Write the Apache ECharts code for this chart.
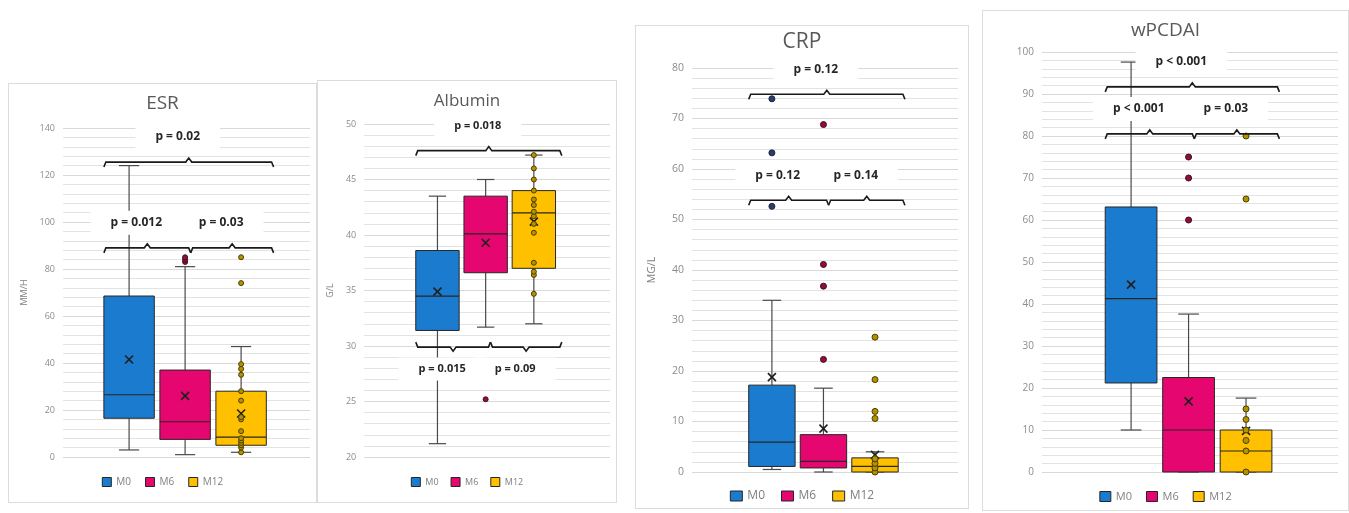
<!DOCTYPE html>
<html>
<head>
<meta charset="utf-8">
<title>ESR / Albumin / CRP / wPCDAI</title>
<script src="https://cdn.jsdelivr.net/npm/echarts@6/dist/echarts.min.js"></script>
<style>
  html, body { margin: 0; padding: 0; background: #fff; }
  body { width: 1349px; height: 513px; position: relative; overflow: hidden; }
  .panel { position: absolute; border: 1px solid #dcdcdc; box-sizing: border-box; background: #fff; }
</style>
</head>
<body>
<div class="panel" id="esr" style="left:8px;top:83px;width:309px;height:420px"></div>
<div class="panel" id="albumin" style="left:317px;top:80px;width:300px;height:423px"></div>
<div class="panel" id="crp" style="left:635px;top:25px;width:334px;height:484px"></div>
<div class="panel" id="wpcdai" style="left:982px;top:10px;width:367px;height:501px"></div>

<script>
// groups (one box per visit)
var groups = ['M0', 'M6', 'M12'];

// stats per group: [min whisker, Q1, median, Q3, max whisker, mean]
var esrStats = [
  [3, 16.5, 26.5, 68.5, 124, 41.5],
  [1, 7.5, 15, 37, 81, 26],
  [2, 5, 8.5, 28, 47, 18.5]
];
var esrPoints = [
  [],
  [83, 84, 85],
  [2, 4, 5, 6, 7, 8, 11, 16, 17, 24, 28, 35, 37.5, 39.5, 74, 85]
];
// brackets: [from group, to group, level, label, direction]
var esrBrackets = [
  [0, 2, 125.5, 'p = 0.02', 1],
  [0, 1, 89, 'p = 0.012', 1],
  [1, 2, 89, 'p = 0.03', 1]
];

var albStats = [
  [21.2, 31.4, 34.5, 38.6, 43.5, 34.9],
  [31.7, 36.6, 40.1, 43.5, 45, 39.3],
  [32, 37, 42, 44, 47.2, 41.2]
];
var albPoints = [
  [],
  [25.2],
  [34.7, 36.4, 36.7, 37.5, 40.2, 41, 41.7, 42.1, 42.7, 43.2, 44, 45, 46, 47.2]
];
var albBrackets = [
  [0, 2, 47.6, 'p = 0.018', 1],
  [0, 1, 29.9, 'p = 0.015', -1],
  [1, 2, 29.9, 'p = 0.09', -1]
];

var crpStats = [
  [0.5, 1.1, 5.9, 17.2, 34, 18.8],
  [0, 0.8, 2.1, 7.4, 16.6, 8.6],
  [0, 0, 1.1, 2.8, 4, 3.4]
];
var crpPoints = [
  [52.6, 63.2, 73.9],
  [22.3, 36.8, 41.1, 68.8],
  [0, 0.8, 1.7, 2.6, 10.6, 12, 18.3, 26.7]
];
var crpBrackets = [
  [0, 2, 74.8, 'p = 0.12', 1],
  [0, 1, 53.8, 'p = 0.12', 1],
  [1, 2, 53.8, 'p = 0.14', 1]
];

var wpStats = [
  [10, 21.2, 41.3, 63.1, 97.6, 44.6],
  [0, 0, 10, 22.5, 37.6, 16.8],
  [0, 0, 5, 10, 17.6, 9.8]
];
var wpPoints = [
  [],
  [60, 70, 75],
  [0, 5, 7.5, 10, 12.5, 15, 65, 80]
];
var wpBrackets = [
  [0, 2, 91.7, 'p < 0.001', 1],
  [0, 1, 80.5, 'p < 0.001', 1],
  [1, 2, 80.5, 'p = 0.03', 1]
];

var boxColors = ['#1b7ccf', '#e5076f', '#ffc000'];
var dotColors = ['#2c3e66', '#8c1038', '#b39200'];
var dotBorders = ['#1a2640', '#4a0a1e', '#4d3e00'];
var FONT = '"Open Sans", "Liberation Sans", sans-serif';

function boxRenderer(color) {
  return function (params, api) {
    var x = api.value(0);
    var half = api.size([0.9, 0])[0] / 2;
    var cap = api.size([0.36, 0])[0] / 2;
    var lo = api.coord([x, api.value(1)]);
    var q1 = api.coord([x, api.value(2)]);
    var md = api.coord([x, api.value(3)]);
    var q3 = api.coord([x, api.value(4)]);
    var hi = api.coord([x, api.value(5)]);
    var mn = api.coord([x, api.value(6)]);
    var cx = lo[0];
    var w = { stroke: '#4a4a4a', lineWidth: 1.2 };
    var m = 4;
    return {
      type: 'group',
      children: [
        { type: 'line', shape: { x1: cx, y1: hi[1], x2: cx, y2: q3[1] }, style: w },
        { type: 'line', shape: { x1: cx, y1: q1[1], x2: cx, y2: lo[1] }, style: w },
        { type: 'line', shape: { x1: cx - cap, y1: hi[1], x2: cx + cap, y2: hi[1] }, style: w },
        { type: 'line', shape: { x1: cx - cap, y1: lo[1], x2: cx + cap, y2: lo[1] }, style: w },
        { type: 'rect', shape: { x: cx - half, y: q3[1], width: half * 2, height: q1[1] - q3[1] },
          style: { fill: color, stroke: '#262626', lineWidth: 1 } },
        { type: 'line', shape: { x1: cx - half, y1: md[1], x2: cx + half, y2: md[1] },
          style: { stroke: '#262626', lineWidth: 1.2 } },
        { type: 'line', shape: { x1: cx - m, y1: mn[1] - m, x2: cx + m, y2: mn[1] + m },
          style: { stroke: '#1f1f1f', lineWidth: 1.6 } },
        { type: 'line', shape: { x1: cx - m, y1: mn[1] + m, x2: cx + m, y2: mn[1] - m },
          style: { stroke: '#1f1f1f', lineWidth: 1.6 } }
      ]
    };
  };
}

function bracketRenderer(list, fontSize) {
  return function (params, api) {
    var b = list[params.dataIndex];
    var dir = b[4];
    var x1 = b[0] === 0 ? -0.45 : 1.1;
    var x2 = b[1] === 2 ? 2.58 : 1.1;
    var p1 = api.coord([x1, b[2]]);
    var p2 = api.coord([x2, b[2]]);
    var y = p1[1];
    var xm = (p1[0] + p2[0]) / 2;
    var pts = [
      [p1[0], y + 5 * dir], [p1[0] + 2, y], [xm - 3, y], [xm, y - 4 * dir],
      [xm + 3, y], [p2[0] - 2, y], [p2[0], y + 5 * dir]
    ];
    return {
      type: 'group',
      children: [
        { type: 'polyline', shape: { points: pts }, style: { stroke: '#1a1a1a', lineWidth: 1.6, fill: null } },
        { type: 'text', x: xm - 11, y: dir > 0 ? y - 25 : y + 22,
          style: { text: b[3], fill: '#262626', font: 'bold ' + fontSize + 'px ' + FONT,
                   align: 'center', verticalAlign: 'middle', backgroundColor: '#fff', padding: [6, 20] } }
      ]
    };
  };
}

function makePanel(id, c) {
  var chart = echarts.init(document.getElementById(id));
  var series = [];
  for (var g = 0; g < 3; g++) {
    series.push({
      name: groups[g],
      type: 'custom',
      renderItem: boxRenderer(boxColors[g]),
      itemStyle: { color: boxColors[g] },
      encode: { x: 0, y: [1, 2, 3, 4, 5] },
      data: [[g].concat(c.stats[g])],
      clip: false,
      z: 2
    });
  }
  for (var k = 0; k < 3; k++) {
    series.push({
      name: groups[k] + ' points',
      type: 'scatter',
      symbolSize: c.dot,
      itemStyle: { color: dotColors[k], borderColor: dotBorders[k], borderWidth: 1, opacity: 1 },
      data: c.points[k].map(function (v) { return [k, v]; }),
      z: 3
    });
  }
  series.push({
    type: 'custom',
    renderItem: bracketRenderer(c.brackets, c.pFont),
    data: c.brackets.map(function (b) { return [b[0], b[2]]; }),
    encode: { x: 0, y: 1 },
    clip: false,
    silent: true,
    z: 5
  });

  chart.setOption({
    animation: false,
    backgroundColor: '#fff',
    title: {
      text: c.title, left: 'center', top: c.titleTop, padding: 0,
      textStyle: { color: '#595959', fontSize: c.titleSize, fontWeight: 'normal', fontFamily: FONT }
    },
    legend: {
      data: groups, left: 'center', top: c.legendTop, padding: 0,
      icon: 'rect', itemWidth: c.icon[0], itemHeight: c.icon[1], itemGap: c.legendGap,
      itemStyle: { borderColor: '#262626', borderWidth: 1 },
      textStyle: { color: '#7f7f7f', fontSize: c.legendFont, fontFamily: FONT }
    },
    grid: c.grid,
    xAxis: { type: 'value', min: c.xRange[0], max: c.xRange[1], show: false },
    yAxis: {
      type: 'value', min: c.yRange[0], max: c.yRange[1], interval: c.yRange[2],
      name: c.yName, nameLocation: 'middle', nameGap: c.nameGap,
      nameTextStyle: { color: '#7f7f7f', fontSize: c.axisFont, fontFamily: FONT },
      axisLine: { show: false }, axisTick: { show: false },
      axisLabel: { color: '#8c8c8c', fontSize: c.axisFont, fontFamily: FONT, margin: 8 },
      splitLine: { lineStyle: { color: '#d9d9d9', width: 1 } },
      minorTick: { show: false, splitNumber: 5 },
      minorSplitLine: { show: true, lineStyle: { color: '#e3e3e3', width: 1 } }
    },
    series: series
  });
}

makePanel('esr', {
  title: 'ESR', titleTop: 10, titleSize: 19, yName: 'MM/H', nameGap: 33,
  stats: esrStats, points: esrPoints, brackets: esrBrackets,
  grid: { left: 54, right: 6, top: 44, bottom: 45 },
  xRange: [-1.18, 3.23], yRange: [0, 140, 20],
  legendTop: 393, icon: [9, 9], legendGap: 14, legendFont: 10,
  axisFont: 9, dot: 5, pFont: 12
});

makePanel('albumin', {
  title: 'Albumin', titleTop: 12, titleSize: 17, yName: 'G/L', nameGap: 25,
  stats: albStats, points: albPoints, brackets: albBrackets,
  grid: { left: 40, right: 6, top: 43, bottom: 45 },
  xRange: [-1.52, 3.58], yRange: [20, 50, 5],
  legendTop: 396, icon: [9, 9], legendGap: 12, legendFont: 9,
  axisFont: 9, dot: 5, pFont: 11
});

makePanel('crp', {
  title: 'CRP', titleTop: 6, titleSize: 21, yName: 'MG/L', nameGap: 34,
  stats: crpStats, points: crpPoints, brackets: crpBrackets,
  grid: { left: 56, right: 10, top: 42, bottom: 36 },
  xRange: [-1.55, 3.61], yRange: [0, 80, 10],
  legendTop: 464, icon: [12, 10], legendGap: 16, legendFont: 12,
  axisFont: 10.5, dot: 6, pFont: 12
});

makePanel('wpcdai', {
  title: 'wPCDAI', titleTop: 10, titleSize: 19, yName: '', nameGap: 30,
  stats: wpStats, points: wpPoints, brackets: wpBrackets,
  grid: { left: 59, right: 10, top: 41, bottom: 38 },
  xRange: [-1.55, 3.6], yRange: [0, 100, 10],
  legendTop: 480, icon: [11, 10], legendGap: 14, legendFont: 11,
  axisFont: 10, dot: 6, pFont: 12
});
</script>
</body>
</html>
